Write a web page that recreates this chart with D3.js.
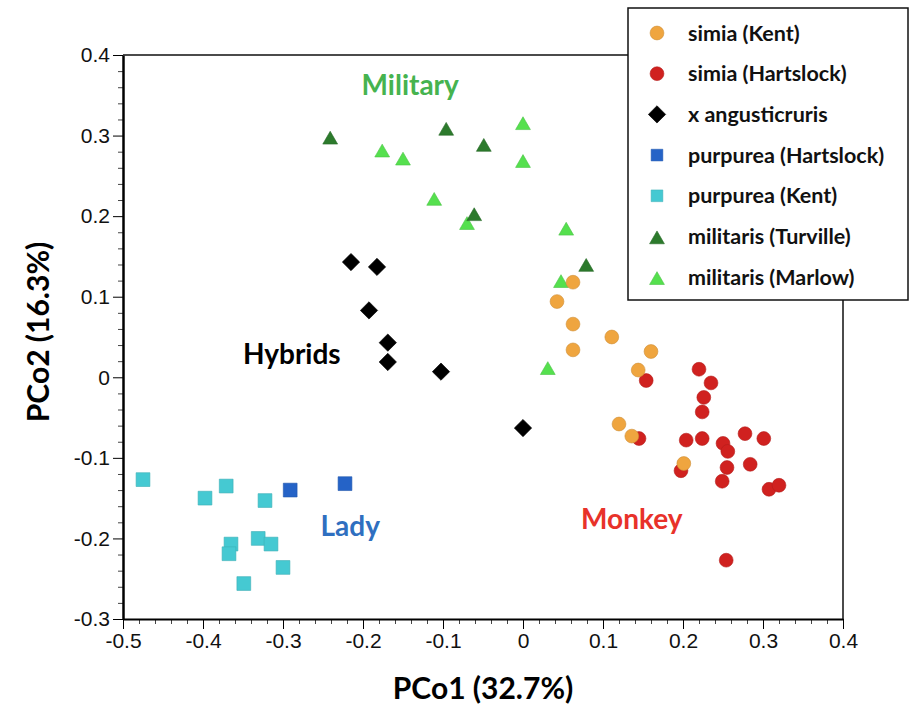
<!DOCTYPE html>
<html>
<head>
<meta charset="utf-8">
<script src="https://cdn.jsdelivr.net/npm/d3@7"></script>
<style>
  body { margin: 0; background: #fff; }
  svg { display: block; }
  .bold { font-family: Lato, "Open Sans", sans-serif; font-weight: bold; }
</style>
</head>
<body>
<svg id="chart"></svg>
<script>
// PCoA scores, one array per group
var simiaKent = [
  [0.0625, 0.118], [0.0425, 0.094], [0.0625, 0.066], [0.111, 0.050], [0.0625, 0.034],
  [0.160, 0.032], [0.144, 0.009], [0.120, -0.058], [0.136, -0.073], [0.201, -0.107]
];
var simiaHartslock = [
  [0.154, -0.004], [0.220, 0.010], [0.235, -0.007], [0.226, -0.025], [0.224, -0.043],
  [0.145, -0.076], [0.204, -0.078], [0.224, -0.076], [0.250, -0.082], [0.256, -0.092],
  [0.2775, -0.070], [0.301, -0.076], [0.1975, -0.116], [0.255, -0.112], [0.284, -0.108],
  [0.249, -0.129], [0.3075, -0.139], [0.320, -0.134], [0.254, -0.227]
];
var angusticruris = [
  [-0.215, 0.143], [-0.1825, 0.137], [-0.1925, 0.083], [-0.169, 0.043],
  [-0.169, 0.019], [-0.1025, 0.007], [0, -0.063]
];
var purpureaHartslock = [[-0.291, -0.140], [-0.2225, -0.132]];
var purpureaKent = [
  [-0.475, -0.127], [-0.3975, -0.150], [-0.371, -0.135], [-0.3225, -0.153], [-0.365, -0.207],
  [-0.3675, -0.219], [-0.331, -0.200], [-0.315, -0.207], [-0.300, -0.236], [-0.349, -0.256]
];
var militarisTurville = [
  [-0.241, 0.296], [-0.096, 0.307], [-0.049, 0.287], [-0.061, 0.201], [0.079, 0.138]
];
var militarisMarlow = [
  [-0.176, 0.280], [-0.150, 0.270], [0, 0.314], [0, 0.267], [-0.111, 0.220],
  [-0.070, 0.190], [0.054, 0.183], [0.0475, 0.118], [0.031, 0.010]
];

var xTicks = [-5, -4, -3, -2, -1, 0, 1, 2, 3, 4].map(function(d) { return d / 10; });
var yTicks = [-3, -2, -1, 0, 1, 2, 3, 4].map(function(d) { return d / 10; });

// cluster names written on the plot, in data units
var clusterLabels = [
  { text: "Military", x: -0.141, y: 0.363, color: "#46b34f" },
  { text: "Hybrids", x: -0.289, y: 0.029, color: "#000000" },
  { text: "Lady", x: -0.216, y: -0.185, color: "#2f6fc0" },
  { text: "Monkey", x: 0.136, y: -0.176, color: "#e8322a" }
];

var groups = [
  { name: "simia (Kent)", data: simiaKent, shape: "circle", color: "#efa53f" },
  { name: "simia (Hartslock)", data: simiaHartslock, shape: "circle", color: "#d0211f" },
  { name: "x angusticruris", data: angusticruris, shape: "diamond", color: "#000000" },
  { name: "purpurea (Hartslock)", data: purpureaHartslock, shape: "square", color: "#2563c7" },
  { name: "purpurea (Kent)", data: purpureaKent, shape: "square", color: "#45c9d2" },
  { name: "militaris (Turville)", data: militarisTurville, shape: "triangle", color: "#2c7a2c" },
  { name: "militaris (Marlow)", data: militarisMarlow, shape: "triangle", color: "#55e04e" }
];

var width = 910, height = 706;
var margin = { top: 55, right: 67, bottom: 87, left: 123 };

var svg = d3.select("#chart").attr("width", width).attr("height", height);

var x = d3.scaleLinear().domain([-0.5, 0.4]).range([margin.left, width - margin.right]);
var y = d3.scaleLinear().domain([-0.3, 0.4]).range([height - margin.bottom, margin.top]);

function fmt(d) { return Math.abs(d) < 1e-9 ? "0" : d.toFixed(1); }

function symbolPath(shape) {
  if (shape == "circle") return d3.symbol(d3.symbolCircle, 150)();
  if (shape == "square") return d3.symbol(d3.symbolSquare, 190)();
  if (shape == "diamond") return d3.symbol(d3.symbolSquare, 150)();
  return d3.symbol(d3.symbolTriangle, 95)();
}

// minor ticks every 0.02
var minorX = d3.range(-25, 21).map(function(d) { return d / 50; })
  .filter(function(d) { return Math.abs(Math.round(d * 10) - d * 10) > 1e-6; });
var minorY = d3.range(-15, 21).map(function(d) { return d / 50; })
  .filter(function(d) { return Math.abs(Math.round(d * 10) - d * 10) > 1e-6; });

svg.append("g")
  .attr("transform", "translate(0," + y(-0.3) + ")")
  .call(d3.axisBottom(x).tickValues(minorX).tickSize(5).tickFormat(""))
  .call(function(g) { g.select(".domain").remove(); })
  .selectAll("line").attr("stroke", "#444");

svg.append("g")
  .attr("transform", "translate(" + x(-0.5) + ",0)")
  .call(d3.axisLeft(y).tickValues(minorY).tickSize(5).tickFormat(""))
  .call(function(g) { g.select(".domain").remove(); })
  .selectAll("line").attr("stroke", "#444");

// major axes
var xAxis = svg.append("g")
  .attr("transform", "translate(0," + y(-0.3) + ")")
  .call(d3.axisBottom(x).tickValues(xTicks).tickSize(10).tickSizeOuter(0).tickPadding(4).tickFormat(fmt));
xAxis.select(".domain").attr("stroke-width", 2);

var yAxis = svg.append("g")
  .attr("transform", "translate(" + x(-0.5) + ",0)")
  .call(d3.axisLeft(y).tickValues(yTicks).tickSize(10).tickSizeOuter(0).tickPadding(3).tickFormat(fmt));
yAxis.select(".domain").attr("stroke-width", 2.5);

svg.selectAll(".tick text")
  .attr("font-family", "'Liberation Sans', Arial, sans-serif")
  .attr("font-size", 21)
  .attr("fill", "#111");

// top and right of the frame
svg.append("path")
  .attr("d", "M" + x(-0.5) + "," + y(0.4) + "H" + x(0.4) + "V" + y(-0.3))
  .attr("fill", "none")
  .attr("stroke", "#111")
  .attr("stroke-width", 1.5);

// axis titles
svg.append("text")
  .attr("class", "bold")
  .attr("x", x(-0.05))
  .attr("y", 699)
  .attr("text-anchor", "middle")
  .attr("font-size", 30)
  .text("PCo1 (32.7%)");

svg.append("text")
  .attr("class", "bold")
  .attr("transform", "translate(49," + (y(0.05) - 5) + ") rotate(-90)")
  .attr("text-anchor", "middle")
  .attr("font-size", 30)
  .text("PCo2 (16.3%)");

// points, drawn from the last group to the first so reds sit on top
groups.slice().reverse().forEach(function(gr) {
  svg.append("g")
    .selectAll("path")
    .data(gr.data)
    .enter()
    .append("path")
    .attr("d", symbolPath(gr.shape))
    .attr("transform", function(d) {
      var t = "translate(" + x(d[0]) + "," + y(d[1]) + ")";
      if (gr.shape == "diamond") t += " rotate(45)";
      if (gr.shape == "triangle") t += " translate(0,1)";
      return t;
    })
    .attr("fill", gr.color)
    .attr("stroke", d3.color(gr.color).darker(0.4))
    .attr("stroke-width", 0.6);
});

// cluster labels
svg.append("g")
  .selectAll("text")
  .data(clusterLabels)
  .enter()
  .append("text")
  .attr("class", "bold")
  .attr("x", function(d) { return x(d.x); })
  .attr("y", function(d) { return y(d.y); })
  .attr("dy", "0.35em")
  .attr("text-anchor", "middle")
  .attr("font-size", 28)
  .attr("fill", function(d) { return d.color; })
  .text(function(d) { return d.text; });

// legend
var legend = svg.append("g").attr("transform", "translate(628,8)");
legend.append("rect")
  .attr("width", 280)
  .attr("height", 292)
  .attr("fill", "#fff")
  .attr("stroke", "#111")
  .attr("stroke-width", 1.5);

var rows = legend.selectAll("g.row")
  .data(groups)
  .enter()
  .append("g")
  .attr("class", "row")
  .attr("transform", function(d, i) { return "translate(0," + (25 + i * 40.7) + ")"; });

rows.append("path")
  .attr("d", function(d) { return symbolPath(d.shape); })
  .attr("transform", function(d) {
    var t = "translate(29,0)";
    if (d.shape == "diamond") t += " rotate(45)";
    if (d.shape == "square") t += " scale(0.85)";
    if (d.shape == "triangle") t += " translate(0,3)";
    return t;
  })
  .attr("fill", function(d) { return d.color; })
  .attr("stroke", function(d) { return d3.color(d.color).darker(0.4); })
  .attr("stroke-width", 0.6);

rows.append("text")
  .attr("class", "bold")
  .attr("x", 60)
  .attr("dy", "0.35em")
  .attr("font-size", 21.5)
  .attr("fill", "#111")
  .text(function(d) { return d.name; });
</script>
</body>
</html>
